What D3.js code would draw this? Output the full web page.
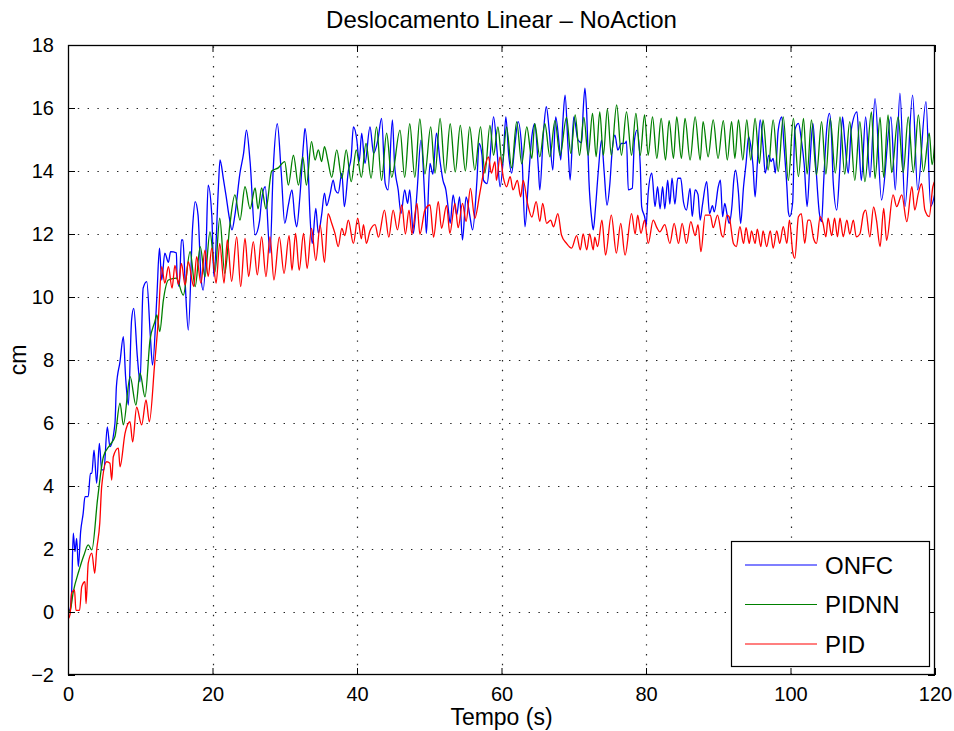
<!DOCTYPE html>
<html>
<head>
<meta charset="utf-8">
<script src="https://cdn.jsdelivr.net/npm/d3@7"></script>
<style>
  html, body { margin: 0; padding: 0; background: #fff; }
  svg text { font-family: "Liberation Sans", Arial, Helvetica, sans-serif; fill: #000; }
</style>
</head>
<body>
<svg id="chart" width="954" height="731"></svg>
<script>
// Linear displacement (cm) over time (s) for three controllers.
const chartTitle = "Deslocamento Linear – NoAction";
const xLabel = "Tempo (s)";
const yLabel = "cm";
const xTicks = [0, 20, 40, 60, 80, 100, 120];
const yTicks = [-2, 0, 2, 4, 6, 8, 10, 12, 14, 16, 18];
const seriesNames = ["ONFC", "PIDNN", "PID"];
const seriesColors = ["#0000ff", "#008000", "#ff0000"];

// ONFC: [time, displacement]
const onfc = [[0,0],[0.3,0.1],[0.5,0.6],[0.73,2.5],[0.97,1.92],[1.2,2.34],[1.43,1.44],[1.75,2.55],[2.1,3.13],[2.35,3.66],[2.8,3.66],[3.1,4.4],[3.3,4.4],[3.6,5.14],[3.97,4.09],[4.34,5.35],[4.66,4.51],[4.97,4.51],[5.44,5.88],[5.8,5.25],[6.5,5.99],[6.7,7.16],[7.2,7.95],[7.66,8.74],[7.97,7.47],[8.35,6.57],[8.8,9.27],[9.1,9.64],[9.6,8.1],[9.97,7.31],[10.4,10.28],[10.9,10.49],[11.4,8.74],[11.7,7.84],[12.3,10.01],[12.66,11.55],[12.97,10.54],[13.4,11.39],[13.9,11.1],[14.2,11.44],[15.0,11.4],[15.1,10.65],[15.4,10.33],[15.7,11.81],[15.9,11.81],[16.2,10.54],[16.65,8.95],[17.25,12.23],[17.6,13.03],[18.0,12.6],[18.4,10.65],[18.7,10.22],[19.1,11.5],[19.4,13.55],[19.9,12.6],[20.2,10.65],[20.8,13.4],[21.04,14.35],[21.5,13.76],[21.9,13.18],[22.3,12.55],[22.7,12.13],[23.1,12.6],[23.8,13.93],[24.3,14.56],[24.7,15.3],[25.2,14.3],[25.9,11.97],[26.5,12.4],[26.8,13.08],[27.3,13.5],[27.96,11.39],[28.4,14.03],[28.97,15.5],[29.5,14.0],[30.0,12.34],[30.5,12.92],[31.0,13.4],[31.4,12.5],[31.65,12.23],[32.1,13.2],[32.6,14.88],[32.8,15.35],[33.2,14.3],[33.5,12.55],[33.8,11.7],[34.3,12.81],[34.65,12.02],[35.1,12.6],[35.5,13.3],[35.8,12.9],[36.3,13.3],[36.7,13.71],[37.0,13.4],[37.4,13.3],[37.9,13.93],[38.25,12.87],[38.8,14.0],[39.2,14.45],[39.5,15.4],[39.97,15.0],[40.3,14.3],[40.65,15.2],[41.1,14.24],[41.8,15.4],[42.3,14.56],[42.9,15.0],[43.4,15.67],[43.9,13.61],[44.3,13.4],[44.9,15.62],[45.2,14.2],[45.7,13.4],[46.1,12.65],[46.6,13.4],[47.0,12.97],[47.3,13.4],[47.8,12.02],[48.3,13.3],[48.85,14.98],[49.4,13.0],[49.6,12.02],[50.1,14.24],[50.5,13.9],[51.0,15.2],[51.5,14.3],[51.9,13.7],[52.3,13.4],[52.6,12.87],[52.9,12.34],[53.3,13.24],[53.8,12.6],[54.2,13.18],[54.6,11.81],[55.1,13.18],[55.6,12.6],[56.0,12.13],[56.6,13.7],[56.9,14.88],[57.3,14.5],[57.5,13.71],[58.0,13.6],[58.4,14.4],[58.9,15.72],[59.4,14.6],[59.8,13.5],[60.25,14.4],[60.6,15.72],[61.0,14.5],[61.4,13.93],[61.8,14.7],[62.3,15.57],[62.8,14.7],[63.25,12.23],[63.7,13.6],[64.2,15.1],[64.6,15.5],[65.1,14.1],[65.3,13.4],[65.8,15.2],[66.2,16.04],[66.6,15.3],[67.1,14.03],[67.5,15.72],[68.0,14.8],[68.2,14.35],[68.5,15.6],[68.8,16.41],[69.2,14.8],[69.5,13.71],[70.0,15.72],[70.6,14.98],[71.1,14.9],[71.3,15.9],[71.55,16.63],[71.8,15.8],[72.1,13.71],[72.5,12.44],[72.7,12.13],[73.0,12.8],[73.4,14.0],[73.85,14.98],[74.2,14.0],[74.6,12.92],[75.0,13.6],[75.3,14.6],[75.7,15.14],[76.1,14.66],[76.4,14.8],[76.6,14.88],[77.1,14.88],[77.3,14.95],[77.55,13.4],[78.1,13.45],[78.4,14.98],[78.75,15.3],[79.2,14.2],[79.4,12.87],[79.9,12.44],[80.0,12.23],[80.3,13.3],[80.8,13.93],[81.25,12.87],[81.6,13.5],[81.95,12.8],[82.3,13.5],[82.6,12.8],[83.0,13.71],[83.3,12.95],[83.6,13.77],[84.0,12.95],[84.4,13.77],[84.8,13.77],[85.2,13.0],[85.6,12.76],[86.1,13.45],[86.4,12.55],[86.8,13.4],[87.2,13.25],[87.5,12.44],[87.8,12.9],[88.4,13.66],[88.8,12.65],[89.2,12.9],[89.45,12.7],[90.0,13.5],[90.3,13.71],[90.6,12.55],[90.9,12.97],[91.2,12.65],[91.5,12.34],[91.9,12.9],[92.15,13.71],[92.4,14.03],[92.8,13.3],[93.1,12.34],[93.5,13.5],[93.85,14.24],[94.2,15.09],[94.5,14.8],[94.8,14.2],[95.1,13.18],[95.4,14.2],[95.8,15.62],[96.2,14.8],[96.5,13.93],[97.0,14.5],[97.3,14.3],[97.6,14.4],[97.9,13.93],[98.3,15.3],[98.8,15.72],[99.1,14.8],[99.5,13.5],[99.7,12.7],[99.9,12.55],[100.3,13.0],[100.6,15.3],[101.1,15.51],[101.5,15.0],[101.9,14.2],[102.3,12.87],[102.7,14.3],[103.1,15.51],[103.5,14.2],[104.0,12.65],[104.3,12.39],[104.6,13.7],[105.0,15.3],[105.4,15.83],[105.7,15.0],[105.9,13.7],[106.4,12.76],[106.8,14.0],[107.2,15.72],[107.5,15.0],[108.0,13.93],[108.4,15.3],[109.2,15.88],[109.5,14.8],[109.8,13.7],[110.4,15.72],[111.0,13.8],[111.7,16.3],[112.6,13.08],[113.9,15.72],[114.5,13.4],[115.15,16.47],[115.85,12.87],[116.9,16.41],[117.6,13.4],[118.75,16.2],[119.4,12.87],[120,13.3]];

// PIDNN: [time, displacement]
const pidnn = [[0,0],[0.3,0.05],[0.73,0.64],[1.5,1.3],[2.2,1.8],[2.8,2.13],[3.3,1.97],[4.1,3.6],[4.9,4.93],[5.8,5.3],[6.5,5.57],[7.2,6.63],[7.66,5.94],[8.6,7.47],[9.4,6.57],[9.97,7.58],[10.66,6.83],[11.35,8.63],[12.0,9.2],[12.3,9.43],[12.7,8.9],[13.2,9.9],[13.9,10.54],[15.0,10.6],[15.96,10.06],[16.9,11.44],[17.6,10.33],[18.3,11.6],[18.96,10.64],[19.65,12.07],[20.35,10.8],[21.0,12.5],[21.7,10.75],[22.4,12.28],[23.1,13.24],[23.8,12.44],[24.5,13.5],[25.2,12.8],[25.9,13.46],[26.3,12.8],[26.8,13.46],[27.4,12.8],[28.2,14.0],[29.1,14.1],[30.0,14.3],[30.5,13.55],[31.2,14.5],[31.9,13.55],[32.5,14.45],[33.0,13.55],[33.7,14.93],[34.2,14.35],[34.65,14.67],[35.1,14.3],[35.5,14.77],[35.95,14.35],[36.5,13.8],[37.2,14.67],[37.9,13.77],[38.5,14.67],[39.2,13.66],[39.9,14.67],[40.6,13.8],[41.25,14.88],[41.95,13.77],[42.7,15.4],[43.4,13.7],[44.1,15.2],[44.8,13.8],[45.95,15.3],[46.6,13.8],[47.3,15.5],[48.0,13.8],[48.7,15.65],[49.4,13.9],[50.2,15.4],[50.8,13.93],[51.5,15.67],[52.2,13.93],[52.9,15.5],[53.6,13.97],[54.3,15.45],[55.0,14.0],[55.6,15.4],[56.3,14.03],[57.1,15.4],[57.7,13.93],[58.4,15.45],[58.9,14.5],[59.5,15.4],[60.1,14.23],[60.7,15.4],[61.4,14.1],[62.1,15.56],[62.8,14.23],[63.5,15.4],[64.2,14.4],[64.6,15.5],[65.3,14.45],[66.0,15.5],[66.7,14.45],[67.4,15.6],[68.1,14.5],[69.0,15.7],[69.6,14.56],[70.2,15.78],[70.8,14.5],[71.4,15.7],[72.0,14.5],[72.6,15.83],[73.1,14.45],[73.6,15.88],[74.1,14.5],[74.65,15.96],[75.2,14.5],[75.94,16.1],[76.6,14.5],[77.3,15.88],[78.0,14.5],[78.6,15.83],[79.2,14.5],[79.8,15.78],[80.3,14.5],[80.9,15.72],[81.5,14.4],[82.1,15.67],[82.7,14.35],[83.2,15.6],[83.8,14.4],[84.25,15.72],[84.9,14.4],[85.4,15.67],[86.1,14.35],[86.8,15.72],[87.5,14.35],[87.9,15.57],[88.6,14.45],[89.3,15.62],[89.97,14.4],[90.7,15.6],[91.25,14.35],[91.85,15.57],[92.3,14.4],[92.8,15.62],[93.4,14.35],[93.95,15.62],[94.5,14.35],[95.1,15.67],[95.7,14.24],[96.2,15.62],[96.9,14.03],[97.6,15.62],[98.3,13.98],[99.0,15.72],[99.7,13.7],[100.4,15.67],[101.1,13.82],[101.8,15.67],[102.3,13.9],[102.9,15.62],[103.6,13.88],[104.3,15.57],[104.9,13.9],[105.5,15.67],[106.2,13.93],[106.85,15.72],[107.5,13.9],[108.2,15.57],[108.9,13.7],[109.6,15.57],[110.3,13.66],[111.2,15.88],[111.7,13.76],[112.4,15.7],[112.9,13.8],[113.5,15.78],[114.0,13.95],[114.9,15.72],[115.6,13.95],[116.3,15.72],[117.0,13.95],[117.7,15.78],[118.4,13.98],[119.2,15.2],[119.6,14.2],[120,15.0]];

// PID: [time, displacement]
const pid = [[0,0],[0.05,-0.2],[0.3,-0.05],[0.5,0.6],[0.9,0.7],[1.1,0.05],[1.6,0.05],[1.9,0.8],[2.35,0.96],[2.5,0.27],[2.8,1.55],[3.3,1.87],[3.7,1.23],[3.97,1.97],[4.4,2.83],[4.66,3.98],[5.35,4.77],[5.8,4.72],[6.05,4.19],[6.27,4.93],[6.97,5.2],[7.2,4.61],[7.9,5.68],[8.58,6.04],[8.95,5.4],[9.5,6.5],[10.2,5.94],[10.8,6.73],[11.26,6.04],[12.0,7.9],[12.5,9.27],[12.97,10.96],[13.4,10.44],[13.9,10.96],[14.4,10.28],[14.8,11.0],[15.3,10.4],[15.7,11.07],[16.2,10.38],[16.65,11.12],[17.4,10.33],[17.8,11.28],[18.4,10.44],[18.96,11.49],[19.4,10.65],[19.9,11.55],[20.5,10.44],[21.0,11.7],[21.6,10.44],[22.05,11.81],[22.65,10.5],[23.35,11.91],[23.9,10.33],[24.5,11.86],[25.0,10.65],[25.65,11.76],[26.2,10.7],[26.8,11.91],[27.4,10.65],[27.96,11.91],[28.5,10.54],[29.25,11.9],[29.9,10.75],[30.6,11.95],[31.0,10.85],[31.5,12.02],[32.0,10.85],[32.6,12.02],[33.1,10.9],[33.7,12.18],[34.3,11.16],[34.9,12.28],[35.5,11.1],[36.0,12.65],[36.5,12.34],[36.95,12.02],[37.4,11.6],[37.9,12.18],[38.3,11.95],[38.8,12.44],[39.5,11.7],[40.1,12.5],[40.6,11.85],[40.9,12.3],[41.3,11.7],[41.8,12.1],[42.5,12.3],[42.97,11.9],[43.8,12.76],[44.4,11.9],[45.0,12.76],[45.6,12.13],[46.2,12.92],[46.7,12.0],[47.2,12.76],[47.6,12.0],[48.3,12.97],[48.7,12.0],[49.4,12.76],[50.1,12.92],[50.6,11.9],[51.25,13.03],[51.7,12.18],[52.4,12.91],[52.85,12.02],[53.55,12.97],[54.0,12.2],[54.6,12.97],[55.1,12.4],[55.7,13.45],[56.3,12.5],[57.0,13.3],[57.5,13.93],[58.2,14.45],[58.6,13.93],[59.1,14.3],[59.3,13.7],[59.8,14.45],[60.25,13.8],[60.7,13.5],[61.2,13.82],[61.6,13.4],[62.2,13.7],[62.65,13.18],[63.0,13.7],[63.6,12.97],[64.2,12.54],[64.8,13.03],[65.3,12.4],[65.7,12.97],[66.25,12.34],[66.8,12.44],[67.2,12.23],[67.8,12.65],[68.3,11.97],[69.0,11.7],[69.7,11.55],[70.4,11.95],[70.9,11.5],[71.3,12.0],[71.8,11.5],[72.2,12.0],[72.7,11.5],[72.9,11.9],[73.3,11.6],[73.9,12.44],[74.4,11.33],[75.2,12.6],[75.9,11.39],[76.5,12.34],[77.1,11.33],[78.0,12.65],[78.5,12.0],[78.85,12.6],[79.3,12.02],[79.8,12.44],[80.3,11.7],[81.0,12.44],[81.5,12.2],[81.9,12.07],[82.6,12.3],[83.3,11.7],[83.9,12.34],[84.5,11.7],[85.0,12.34],[85.6,11.7],[86.2,12.39],[86.8,11.95],[87.2,12.3],[87.6,11.44],[88.2,12.6],[88.9,12.6],[89.3,12.2],[89.9,12.6],[90.5,11.95],[90.7,11.9],[91.2,12.6],[91.5,12.55],[92.1,11.7],[92.5,11.6],[93.0,12.23],[93.5,11.7],[93.85,12.2],[94.3,11.7],[94.6,12.1],[95.1,11.7],[95.4,12.15],[95.9,11.6],[96.2,12.1],[96.7,11.6],[97.2,12.1],[97.6,11.55],[98.1,12.1],[98.5,11.7],[99.0,12.23],[99.5,11.7],[99.85,12.44],[100.3,11.44],[100.6,11.23],[101.1,12.55],[101.5,12.65],[101.97,11.7],[102.4,12.44],[102.7,12.44],[103.2,11.85],[103.6,11.7],[104.1,12.55],[104.5,12.34],[104.9,11.91],[105.2,12.5],[105.7,11.95],[106.1,12.5],[106.5,11.91],[106.85,12.5],[107.3,11.91],[107.8,12.44],[108.2,12.0],[108.7,12.44],[109.1,11.91],[109.6,12.0],[110.1,12.65],[110.4,12.76],[110.98,11.91],[111.5,12.86],[111.9,12.44],[112.4,11.6],[112.9,12.81],[113.3,11.8],[114.2,13.24],[114.7,12.87],[115.4,13.24],[116.1,12.39],[116.8,13.5],[117.2,12.76],[117.7,13.3],[118.15,13.6],[118.6,12.76],[119.2,12.55],[119.7,13.5],[120,13.7]];

const seriesData = [onfc, pidnn, pid];

const svg = d3.select("#chart");
const margin = { left: 68, right: 19, top: 45, bottom: 56 };
const W = 954, H = 731;
const plotW = W - margin.left - margin.right;
const plotH = H - margin.top - margin.bottom;

const x = d3.scaleLinear().domain([0, 120]).range([margin.left, margin.left + plotW]);
const y = d3.scaleLinear().domain([-2, 18]).range([margin.top + plotH, margin.top]);

svg.append("rect").attr("x", 0).attr("y", 0).attr("width", W).attr("height", H).attr("fill", "#fff");

svg.append("defs").append("clipPath").attr("id", "plotClip")
  .append("rect").attr("x", margin.left).attr("y", margin.top)
  .attr("width", plotW).attr("height", plotH);

// dotted grid
const grid = svg.append("g").attr("class", "grid")
  .attr("stroke", "#222").attr("stroke-width", 1.2).attr("stroke-dasharray", "1.4,8.4");
grid.selectAll("line.v").data(xTicks.slice(1, -1)).join("line")
  .attr("x1", d => Math.round(x(d)) + 0.5).attr("x2", d => Math.round(x(d)) + 0.5)
  .attr("y1", margin.top + plotH).attr("y2", margin.top);
grid.selectAll("line.h").data(yTicks.slice(1, -1)).join("line")
  .attr("y1", d => Math.round(y(d)) + 0.5).attr("y2", d => Math.round(y(d)) + 0.5)
  .attr("x1", margin.left).attr("x2", margin.left + plotW);

// series lines
const line = d3.line().x(d => x(d[0])).y(d => y(d[1])).curve(d3.curveMonotoneX);
const linesG = svg.append("g").attr("clip-path", "url(#plotClip)");
seriesData.forEach((data, i) => {
  linesG.append("path").datum(data)
    .attr("fill", "none").attr("stroke", seriesColors[i])
    .attr("stroke-width", 1.3).attr("stroke-linejoin", "round")
    .attr("d", line);
});

// axes with inward ticks on all four sides
const tickLen = 7;
const fmt = d => (d < 0 ? "\u2212" + Math.abs(d) : String(d));
const axisBottom = d3.axisBottom(x).tickValues(xTicks).tickSizeInner(-tickLen).tickSizeOuter(0).tickPadding(12).tickFormat(fmt);
const axisTop = d3.axisTop(x).tickValues(xTicks).tickSizeInner(-tickLen).tickSizeOuter(0).tickFormat("");
const axisLeft = d3.axisLeft(y).tickValues(yTicks).tickSizeInner(-tickLen).tickSizeOuter(0).tickPadding(14).tickFormat(fmt);
const axisRight = d3.axisRight(y).tickValues(yTicks).tickSizeInner(-tickLen).tickSizeOuter(0).tickFormat("");

function styleAxis(g) {
  g.select(".domain").remove();
  g.selectAll(".tick line").attr("stroke", "#000").attr("stroke-width", 1);
  g.selectAll(".tick text").attr("font-size", 20).attr("fill", "#000")
    .attr("font-family", "'Liberation Sans', Arial, Helvetica, sans-serif");
}
svg.append("g").attr("transform", `translate(0,${margin.top + plotH})`).call(axisBottom).call(styleAxis);
svg.append("g").attr("transform", `translate(0,${margin.top})`).call(axisTop).call(styleAxis);
svg.append("g").attr("transform", `translate(${margin.left},0)`).call(axisLeft).call(styleAxis);
svg.append("g").attr("transform", `translate(${margin.left + plotW},0)`).call(axisRight).call(styleAxis);

// axes box
svg.append("rect")
  .attr("x", margin.left + 0.5).attr("y", margin.top + 0.5)
  .attr("width", plotW - 1).attr("height", plotH - 1)
  .attr("fill", "none").attr("stroke", "#000").attr("stroke-width", 1.3);

// title and axis labels
svg.append("text").attr("x", x(60)).attr("y", 28).attr("text-anchor", "middle")
  .attr("font-size", 24).text(chartTitle);
svg.append("text").attr("x", x(60)).attr("y", 725).attr("text-anchor", "middle")
  .attr("font-size", 23).text(xLabel);
svg.append("text").attr("transform", `translate(26,${y(8)}) rotate(-90)`)
  .attr("text-anchor", "middle").attr("font-size", 23).text(yLabel);

// legend
const legend = svg.append("g");
legend.append("rect").attr("x", 731.5).attr("y", 541.5).attr("width", 198).attr("height", 125)
  .attr("fill", "#fff").attr("stroke", "#000").attr("stroke-width", 1.2);
seriesNames.forEach((name, i) => {
  const ly = 565 + i * 39.5;
  legend.append("line").attr("x1", 745).attr("x2", 817).attr("y1", ly).attr("y2", ly)
    .attr("stroke", seriesColors[i]).attr("stroke-width", 1.1);
  legend.append("text").attr("x", 825).attr("y", ly).attr("dy", "0.36em")
    .attr("font-size", 24).text(name);
});
</script>
</body>
</html>
